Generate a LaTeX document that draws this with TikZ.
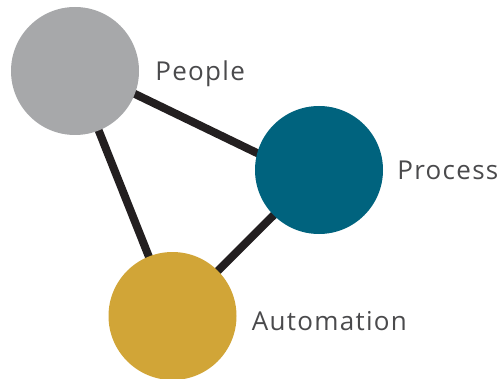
\documentclass[tikz,border=0pt]{standalone}
\usepackage{fontspec}
\setmainfont{Open Sans}[LetterSpace=5]
\usepackage{xcolor}
\usetikzlibrary{positioning,backgrounds}

\definecolor{peoplegray}{HTML}{A7A8AA}
\definecolor{processteal}{HTML}{00637E}
\definecolor{autogold}{HTML}{D1A537}
\definecolor{linkblack}{HTML}{231F20}
\definecolor{labelgray}{HTML}{4A4A4C}

\begin{document}
\begin{tikzpicture}[x=1pt,y=1pt]
\tikzset{ball/.style={circle,minimum size=128pt,inner sep=0pt}}
\tikzset{link/.style={line width=8pt,draw=linkblack}}
\tikzset{word/.style={text=labelgray,font=\fontsize{26}{26}\selectfont,inner sep=0pt,text height=18.5pt,text depth=0pt,anchor=west}}

\useasboundingbox (0,0) rectangle (503,378);

\node[ball,fill=peoplegray] (people) at (75,307) {};
\node[ball,fill=processteal] (process) at (319,208) {};
\node[ball,fill=autogold] (automation) at (172.5,62) {};

\node[word,right=16pt of people] (peoplelabel) {People};
\node[word,right=14pt of process] (processlabel) {Process};
\node[word,right=15pt of automation,yshift=-5pt] (automationlabel) {Automation};

% connectors go under the balls
\begin{scope}[on background layer]
\draw[link] ([yshift=6pt]people.center) -- ([yshift=-13pt]process.center);
\draw[link] (people.center) -- (automation.center);
\draw[link] (process.center) -- (automation.center);
\end{scope}
\end{tikzpicture}
\end{document}
